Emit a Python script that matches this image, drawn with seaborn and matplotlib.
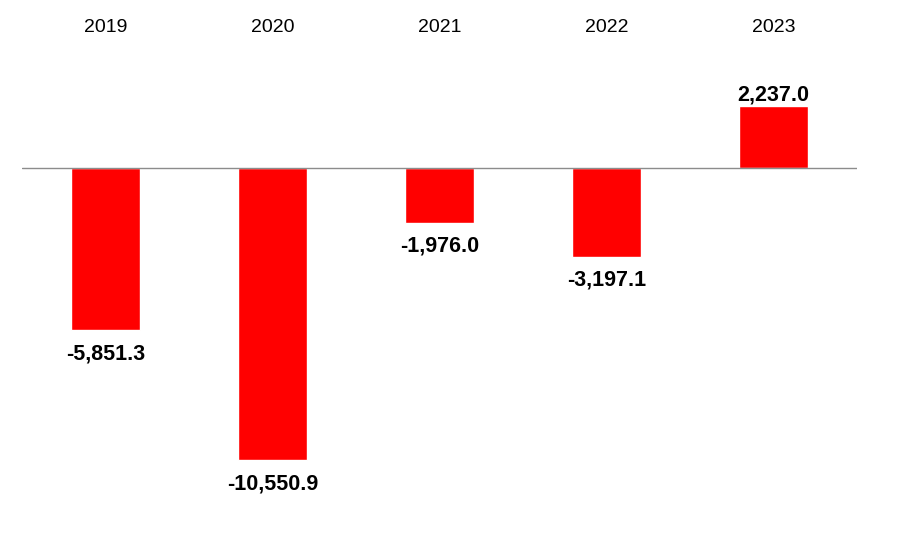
import numpy as np
import pandas as pd
import matplotlib
matplotlib.use("Agg")
import matplotlib.pyplot as plt
import matplotlib.transforms as mtransforms
import seaborn as sns

years = ["2019", "2020", "2021", "2022", "2023"]
values = [-5851.3, -10550.9, -1976.0, -3197.1, 2237.0]

df = pd.DataFrame({"year": years, "value": values})

sns.set_style("white")
plt.rcParams["font.family"] = ["Liberation Sans", "DejaVu Sans"]

fig = plt.figure(figsize=(9.07, 5.40), dpi=100)
ax = fig.add_axes([22 / 907, 0.0, (857 - 22) / 907, 1.0])

sns.barplot(data=df, x="year", y="value", color="#ff0000", saturation=1,
            width=0.41, ax=ax)

ax.set_xlim(-0.5, 4.5)
ax.set_ylim(-13429, 6065)
ax.axhline(0, color="#8c8c8c", lw=1.0, zorder=3)

for s in ax.spines.values():
    s.set_visible(False)
ax.set_xticks([])
ax.set_yticks([])
ax.set_xlabel("")
ax.set_ylabel("")

# year labels at the top
trans = mtransforms.blended_transform_factory(ax.transData, ax.transAxes)
for i, yr in enumerate(years):
    ax.text(i, 1 - 28 / 540, yr, transform=trans, ha="center", va="center",
            fontsize=14, color="#000000")

# value labels
for i, v in enumerate(values):
    off = 8 if v >= 0 else -17
    ax.annotate(f"{v:,.1f}", xy=(i, v), xytext=(0, off), textcoords="offset points",
                ha="center", va="center", fontsize=15.5, fontweight="bold",
                color="#000000")

fig.savefig("out.png", dpi=100)
